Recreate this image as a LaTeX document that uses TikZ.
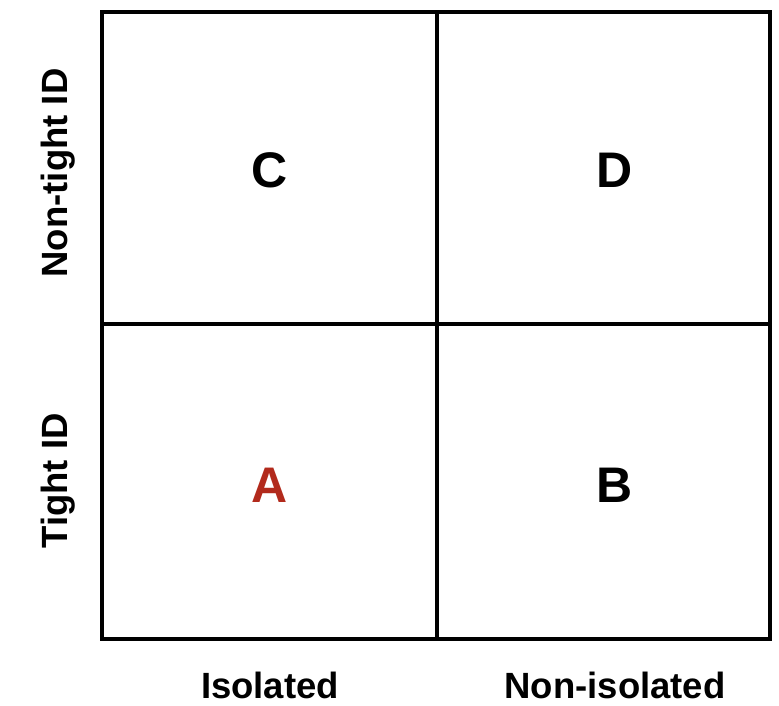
\documentclass[tikz,border=0pt]{standalone}
\usepackage{fontspec}
\setmainfont{Liberation Sans}
\definecolor{hilite}{RGB}{178,42,28}
\begin{document}
\begin{tikzpicture}[x=1pt,y=-1pt,
  grid/.style={line width=3.6pt,black},
  cell/.style={font=\fontsize{50}{50}\selectfont\bfseries,inner sep=0pt,anchor=center},
  axis/.style={font=\fontsize{36.5}{36.5}\selectfont\bfseries,inner sep=0pt,anchor=base}]
  \useasboundingbox (0,0) rectangle (779,706);
  % quadrant frame
  \coordinate (nw) at (102,12);
  \coordinate (se) at (770,639);
  \draw[grid,line width=4pt] (nw) rectangle (se);
  \coordinate (vt) at (437,12);
  \coordinate (vb) at (437,639);
  \coordinate (hl) at (102,324);
  \coordinate (hr) at (770,324);
  \draw[grid] (vt) -- (vb);
  \draw[grid] (hl) -- (hr);
  % quadrant letters
  \node[cell] (C) at (270,170) {C};
  \node[cell] (D) at (615,170) {D};
  \node[cell,text=hilite] (A) at (270,485) {A};
  \node[cell] (B) at (615,485) {B};
  % axis labels (baseline anchored)
  \node[axis,rotate=90] (nontight) at (67,173) {Non-tight ID};
  \node[axis,rotate=90] (tight) at (67,481) {Tight ID};
  \node[axis] (iso) at (270,698) {Isolated};
  \node[axis] (noniso) at (615,698) {Non-isolated};
\end{tikzpicture}
\end{document}
